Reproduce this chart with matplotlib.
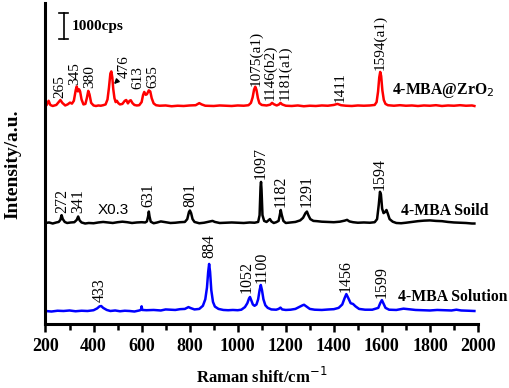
import numpy as np
import matplotlib
matplotlib.use("Agg")
import matplotlib.pyplot as plt

# ---------------- data (cps above each curve's own baseline) ----------------
red_x = [200, 205, 213, 220, 230, 245, 255, 262, 270, 282, 292, 302, 310, 318, 326, 330, 335, 340, 344, 350,
         358, 366, 372, 378, 383, 390, 400, 410, 420, 430, 440, 450, 458, 464, 470, 474, 478, 482, 487, 492,
         497, 503, 510, 520, 530, 536, 543, 550, 555, 562, 570, 580, 590, 600, 606, 611, 617, 622, 630, 636,
         642, 650, 660, 675, 700, 725, 750, 775, 800, 825, 840, 850, 865, 900, 925, 950, 975, 1000, 1025, 1045,
         1055, 1062, 1068, 1073, 1078, 1084, 1090, 1100, 1120, 1135, 1143, 1150, 1162, 1172, 1178, 1185, 1200,
         1225, 1250, 1275, 1300, 1325, 1350, 1375, 1400, 1415, 1430, 1450, 1475, 1500, 1525, 1550, 1570, 1578,
         1584, 1589, 1593, 1597, 1602, 1608, 1615, 1625, 1650, 1675, 1700, 1725, 1750, 1775, 1800, 1825, 1850,
         1875, 1900, 1925, 1950, 1975, 1985]
red_y = [0, 40, 200, 40, 0, 40, 150, 230, 120, 20, 60, 130, 90, 200, 620, 750, 560, 640, 560, 250,
         60, 80, 300, 580, 450, 120, 20, 0, 20, 10, 30, 60, 250, 700, 1250, 1330, 1100, 650, 300, 150,
         200, 110, 60, 80, 200, 230, 100, 200, 220, 110, 40, 20, 30, 150, 420, 540, 430, 450, 600, 560,
         300, 100, 30, 10, 20, -10, 10, 0, 20, 30, 110, 60, 10, 0, 20, 10, 0, 20, 10, 30,
         120, 330, 630, 740, 620, 300, 110, 40, 20, 50, 120, 70, 20, 60, 120, 60, 10,
         0, 20, -10, 10, 0, 20, 10, 40, 80, 30, 10, 0, 20, 10, 20, 40, 150,
         550, 1100, 1310, 1150, 600, 230, 80, 30, 10, 30, 10, 20, 0, 20, 10, 30, 0,
         20, 10, 30, 10, 20, 0]

black_x = [200, 215, 230, 245, 255, 262, 267, 272, 280, 290, 305, 320, 330, 336, 342, 350, 365, 380, 400, 420,
           440, 460, 480, 500, 520, 540, 560, 580, 600, 615, 622, 627, 630, 633, 638, 650, 665, 680, 700, 720,
           740, 760, 780, 790, 797, 801, 806, 812, 820, 840, 860, 880, 895, 905, 925, 950, 975, 1000, 1025, 1050,
           1070, 1085, 1091, 1095, 1097, 1099, 1103, 1110, 1120, 1128, 1134, 1140, 1150, 1160, 1170, 1175, 1179,
           1183, 1190, 1200, 1220, 1240, 1260, 1272, 1282, 1288, 1294, 1302, 1315, 1330, 1350, 1375, 1400, 1425,
           1445, 1455, 1465, 1480, 1500, 1525, 1550, 1570, 1580, 1587, 1592, 1596, 1601, 1607, 1613, 1619, 1625,
           1632, 1645, 1660, 1680, 1700, 1725, 1750, 1775, 1800, 1825, 1850, 1875, 1900, 1925, 1950, 1975, 1985]
black_y = [0, 20, -20, 20, 40, 120, 300, 150, 40, 0, 20, 30, 120, 250, 100, 20, -20, 0, -10, 20,
           40, 20, 0, 30, 50, 30, 0, 20, 30, 20, 60, 250, 440, 250, 50, -10, 20, 60, 30, 0,
           10, 30, 40, 150, 420, 480, 380, 150, 40, -10, 10, 50, 80, 40, 0, 10, 20, 10, 0, 20,
           10, 40, 300, 1400, 1580, 1300, 300, 80, 40, 100, 150, 60, 0, 30, 80, 300, 500,
           320, 80, 0, 20, 40, 100, 200, 380, 440, 300, 150, 80, 70, 50, 40, 30, 50,
           90, 120, 60, 30, 10, 20, 10, 30, 150, 700, 1200, 1100, 550, 380, 420, 500, 350,
           150, 50, 0, -10, 10, 40, 70, 90, 100, 80, 70, 40, 20, 10, 0, -20, -20]

blue_x = [200, 225, 250, 275, 300, 325, 350, 375, 400, 415, 425, 432, 440, 455, 470, 490, 510, 530, 550, 570,
          590, 597, 600, 603, 620, 650, 680, 700, 720, 740, 760, 780, 795, 805, 820, 840, 855, 865, 872, 877,
          881, 885, 890, 897, 905, 920, 940, 960, 980, 1000, 1015, 1030, 1040, 1047, 1051, 1056, 1063, 1070,
          1078, 1085, 1091, 1096, 1101, 1107, 1115, 1125, 1140, 1160, 1170, 1178, 1185, 1200, 1220, 1240, 1255,
          1270, 1276, 1285, 1300, 1320, 1350, 1380, 1400, 1420, 1435, 1445, 1452, 1460, 1470, 1480, 1490, 1505,
          1530, 1560, 1585, 1593, 1600, 1606, 1615, 1630, 1660, 1690, 1710, 1740, 1770, 1800, 1830, 1860, 1890,
          1910, 1930, 1960, 1985]
blue_y = [0, -20, 10, 0, 20, -10, 10, 0, 30, 100, 180, 190, 120, 40, 0, 20, -10, 10, 0, -20,
          20, 40, 180, 40, 30, 40, 20, 60, 50, 40, 70, 80, 150, 110, 60, 80, 200, 450, 900, 1500,
          1810, 1500, 800, 350, 170, 80, 40, 30, 40, 30, 50, 150, 300, 480, 540, 420, 250, 200,
          250, 450, 800, 1000, 800, 450, 220, 120, 60, 50, 80, 130, 60, 40, 50, 80, 150,
          220, 240, 180, 80, 50, 40, 60, 70, 120, 250, 500, 650, 500, 300, 270, 180, 80,
          50, 50, 120, 300, 420, 300, 120, 50, 40, 90, 70, 40, 30, 20, 40, 30, 20,
          50, 20, 10, 0]

offsets = [8385, 3885, 500]
colors = ["#ff0000", "#000000", "#0000ff"]
names = ["4-MBA@ZrO$_2$", "4-MBA Soild", "4-MBA Solution"]
name_pos = [(1640, 8973), (1678, 4358), (1667, 1050)]

red_labels = [("265", 260, 8692), ("345", 322, 9192), ("380", 384, 9077), ("476", 527, 9462),
              ("613", 586, 9038), ("635", 646, 9077), ("1075(a1)", 1076, 9154), ("1146(b2)", 1134, 8615),
              ("1181(a1)", 1196, 8615), ("1411", 1425, 8550), ("1594(a1)", 1592, 9769)]
black_labels = [("272", 269, 4269), ("341", 335, 4269), ("631", 627, 4500), ("801", 801, 4500),
                ("1097", 1097, 5577), ("1182", 1180, 4500), ("1291", 1288, 4500), ("1594", 1592, 5154)]
blue_labels = [("433", 427, 858), ("884", 880, 2538), ("1052", 1037, 1192), ("1100", 1100, 1577),
               ("1456", 1450, 1242), ("1599", 1599, 1000)]

xticks = list(range(200, 2001, 200))

# ---------------- figure ----------------
fig = plt.figure(figsize=(5.10, 3.88), dpi=100)
ax = fig.add_axes([45.5 / 510, 1 - 324 / 388, (478 - 45.5) / 510, 321 / 388])

series = [(red_x, red_y), (black_x, black_y), (blue_x, blue_y)]
for (xs, ys), off, c in zip(series, offsets, colors):
    ax.plot(xs, np.array(ys) + off, color=c, lw=1.8, solid_joinstyle="round")

serif = "Liberation Serif"
for lbls, fs in [(red_labels, 11), (black_labels, 11.5), (blue_labels, 11.5)]:
    for t, x, y in lbls:
        ax.text(x, y, t, rotation=90, ha="center", va="bottom", fontsize=fs,
                family=serif, color="black")

for nm, (x, y) in zip(names, name_pos):
    ax.text(x, y, nm, ha="left", va="center", fontsize=11.3, fontweight="bold",
            family=serif, clip_on=False)

ax.text(481, 4385, "X0.3", ha="center", va="center", fontsize=11, family="Liberation Sans")

# arrow for 476
ax.annotate("", xy=(477, 9150), xytext=(502, 9385),
            arrowprops=dict(arrowstyle="-|>", color="black", lw=1.0, mutation_scale=7))

# scale bar 1000 cps
ax.plot([275, 275], [10961, 11961], color="black", lw=1.2)
ax.plot([258, 292], [11961, 11961], color="black", lw=1.2)
ax.plot([258, 292], [10961, 10961], color="black", lw=1.2)
ax.text(310, 11461, "1000cps", ha="left", va="center", fontsize=11, fontweight="bold", family=serif)

ax.set_xlim(200, 2000)
ax.set_ylim(0, 12346)
ax.set_yticks([])
ax.set_xticks(xticks)
ax.set_xticks(list(range(300, 2000, 200)), minor=True)
ax.set_xticklabels([str(v) for v in xticks], fontsize=13, fontweight="bold", family=serif)
ax.tick_params(axis="x", which="major", direction="out", length=6, width=1.8, pad=4)
ax.tick_params(axis="x", which="minor", direction="out", length=4, width=1.8)
for s in ["top", "right"]:
    ax.spines[s].set_visible(False)
for s in ["left", "bottom"]:
    ax.spines[s].set_linewidth(2.2)
ax.patch.set_visible(False)

fig.text(262 / 510, 1 - 377 / 388, "Raman shift/cm$^{-1}$", ha="center", va="center",
         fontsize=12, fontweight="bold", family=serif)
fig.text(13 / 510, 1 - 164 / 388, "Intensity/a.u.", rotation=90, ha="center", va="center",
         fontsize=14, fontweight="bold", family=serif)

fig.savefig("out.png", dpi=100)
